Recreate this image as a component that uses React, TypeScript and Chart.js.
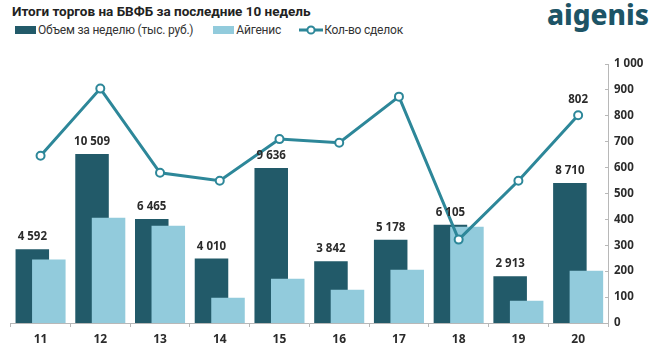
import React, { useEffect, useRef } from 'react';
import { Chart, registerables } from 'chart.js';

Chart.register(...registerables);

// ---- data ----
const weeks = ['11', '12', '13', '14', '15', '16', '17', '18', '19', '20'];
const volume = [4592, 10509, 6465, 4010, 9636, 3842, 5178, 6105, 2913, 8710];
const aigenis = [3940, 6550, 6050, 1570, 2750, 2070, 3310, 5990, 1390, 3250];
const deals = [646, 905, 580, 549, 710, 696, 874, 322, 549, 802];
const dealsAxisMax = 1000;
const dealsAxisStep = 100;
const volumeAxisMax = 16100;

const seriesNames = ['Объем за неделю (тыс. руб.)', 'Айгенис', 'Кол-во сделок'];
const titleText = 'Итоги торгов на БВФБ за последние 10 недель';
const logoText = 'aigenis';

// ---- styles ----
const DARK = '#225a69';
const LIGHT = '#92cbdc';
const LINE = '#2d8799';
const TEXT = '#2b2b2b';
const AXIS = '#b8b8b8';
const FONT = '"Noto Sans", "Open Sans", sans-serif';
const HFONT = 'Roboto, "Noto Sans", sans-serif';

const fmt = (v: number) => String(v).replace(/\B(?=(\d{3})+(?!\d))/g, ' ');

const drawOrderPlugin = {
  id: 'drawOrder',
  beforeDatasetsDraw(chart: any) {
    for (let i = 0; i < chart.data.datasets.length; i++) {
      const meta = chart.getDatasetMeta(i);
      if (chart.isDatasetVisible(i)) meta.controller.draw();
    }
    return false;
  },
};

const labelsPlugin = {
  id: 'valueLabels',
  afterDraw(chart: any) {
    const ctx = chart.ctx;
    ctx.save();
    ctx.font = `bold 11.5px ${FONT}`;
    ctx.fillStyle = TEXT;
    ctx.textAlign = 'center';
    ctx.textBaseline = 'middle';
    const barMeta = chart.getDatasetMeta(0);
    barMeta.data.forEach((el: any, i: number) => {
      ctx.fillText(fmt(volume[i]), el.x, el.y - 12);
    });
    const lineMeta = chart.getDatasetMeta(2);
    const last = deals.length - 1;
    const p = lineMeta.data[last];
    ctx.fillText(fmt(deals[last]), p.x, p.y - 16);
    ctx.restore();
  },
};

function LegendSwatch({ color }: { color: string }) {
  return <span style={{ display: 'inline-block', width: 21, height: 8, background: color, marginRight: 2 }} />;
}

function LegendLine() {
  return (
    <svg width={24} height={12} style={{ marginRight: 1 }}>
      <line x1={0} y1={6} x2={24} y2={6} stroke={LINE} strokeWidth={3} />
      <circle cx={12} cy={6} r={3.6} fill="#fff" stroke={LINE} strokeWidth={2} />
    </svg>
  );
}

export default function App() {
  const canvasRef = useRef<HTMLCanvasElement | null>(null);

  useEffect(() => {
    document.body.style.margin = '0';
    const canvas = canvasRef.current;
    if (!canvas) return;
    const chart = new Chart(canvas, {
      type: 'bar',
      data: {
        labels: weeks,
        datasets: [
          {
            type: 'bar',
            label: seriesNames[0],
            data: volume,
            backgroundColor: DARK,
            yAxisID: 'y',
            categoryPercentage: 0.553,
            barPercentage: 2.03,
          },
          {
            type: 'bar',
            label: seriesNames[1],
            data: aigenis,
            backgroundColor: LIGHT,
            yAxisID: 'y',
            categoryPercentage: 0.553,
            barPercentage: 2.03,
          },
          {
            type: 'line',
            label: seriesNames[2],
            data: deals,
            yAxisID: 'y1',
            borderColor: LINE,
            borderWidth: 3,
            pointRadius: 4,
            pointBorderWidth: 2,
            pointBackgroundColor: '#ffffff',
            pointBorderColor: LINE,
            tension: 0,
          },
        ],
      },
      options: {
        responsive: false,
        animation: false,
        layout: { padding: { left: 10.7, top: 24, right: 0, bottom: 0 } },
        plugins: {
          legend: { display: false },
          title: { display: false },
          tooltip: { enabled: false },
        },
        scales: {
          x: {
            type: 'category',
            offset: true,
            grid: { display: true, drawOnChartArea: false, offset: true, tickLength: 4, color: AXIS },
            border: { display: true, color: AXIS, width: 1 },
            ticks: { color: TEXT, font: { family: FONT, weight: 'bold', size: 12 }, padding: 5 },
            afterFit(scale: any) {
              scale.height = 32;
            },
          },
          y: {
            display: false,
            min: 0,
            max: volumeAxisMax,
          },
          y1: {
            position: 'right',
            min: 0,
            max: dealsAxisMax,
            grid: { drawOnChartArea: false, tickLength: -3, color: AXIS },
            border: { display: true, color: AXIS, width: 1 },
            ticks: {
              stepSize: dealsAxisStep,
              color: TEXT,
              padding: 9,
              font: { family: FONT, weight: 'bold', size: 11.5 },
              callback: (v: any) => fmt(Number(v)),
            },
            afterFit(scale: any) {
              scale.width = 50;
            },
          },
        },
      } as any,
      plugins: [drawOrderPlugin, labelsPlugin],
    });
    return () => chart.destroy();
  }, []);

  return (
    <div style={{ position: 'relative', width: 658, height: 355, background: '#fff', overflow: 'hidden', fontFamily: HFONT }}>
      <div style={{ position: 'absolute', left: 12, top: 3, fontSize: 13.5, fontWeight: 700, color: '#222', whiteSpace: 'nowrap' }}>
        {titleText}
      </div>
      <div style={{ position: 'absolute', left: 547, top: -5, fontSize: 28, fontWeight: 800, color: '#1d5466', whiteSpace: 'nowrap', fontFamily: FONT }}>
        {logoText}
      </div>
      <div style={{ position: 'absolute', left: 15, top: 23, fontSize: 12, letterSpacing: -0.2, color: '#333', whiteSpace: 'nowrap', display: 'flex', alignItems: 'center' }}>
        <LegendSwatch color={DARK} />
        <span>{seriesNames[0]}</span>
        <span style={{ width: 20 }} />
        <LegendSwatch color={LIGHT} />
        <span>{seriesNames[1]}</span>
        <span style={{ width: 18 }} />
        <LegendLine />
        <span>{seriesNames[2]}</span>
      </div>
      <canvas ref={canvasRef} width={658} height={315} style={{ position: 'absolute', left: 0, top: 40, width: 658, height: 315 }} />
    </div>
  );
}
